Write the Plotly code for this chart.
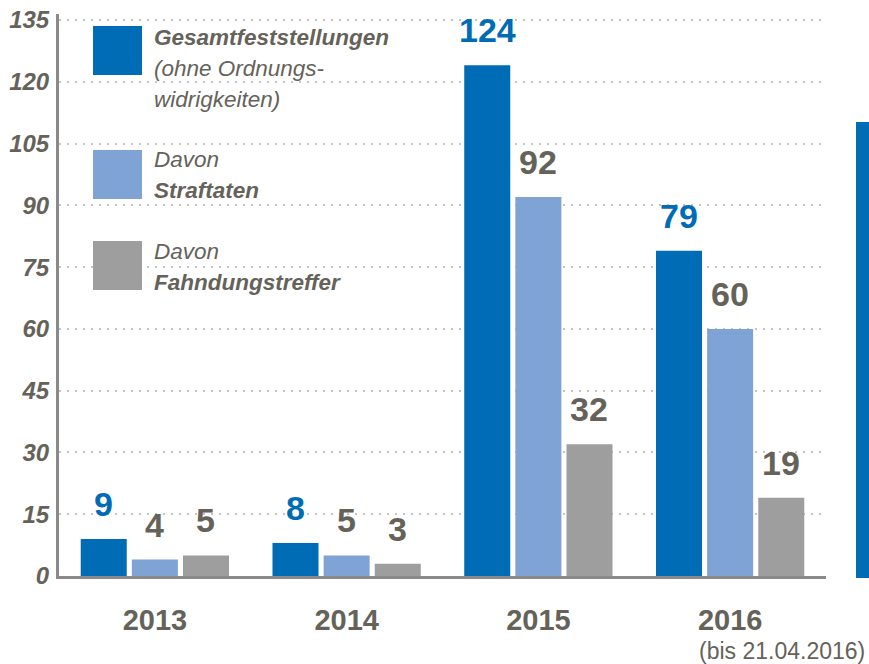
import plotly.graph_objects as go

years = ["2013", "2014", "2015", "2016"]
gesamt = [9, 8, 124, 79]
straftaten = [4, 5, 92, 60]
fahndung = [5, 3, 32, 19]
y_ticks = [0, 15, 30, 45, 60, 75, 90, 105, 120, 135]

C_BLUE = "#006cb5"
C_LIGHT = "#80a3d6"
C_GRAY = "#9d9e9d"
C_TEXT = "#65625a"
FONT = "Liberation Sans"

series = [
    (gesamt, C_BLUE, C_BLUE),
    (straftaten, C_LIGHT, C_TEXT),
    (fahndung, C_GRAY, C_TEXT),
]

fig = go.Figure()
for vals, col, _ in series:
    fig.add_trace(go.Bar(x=years, y=vals, marker=dict(color=col, line=dict(width=0)),
                         showlegend=False, hoverinfo="skip"))

annotations = []
shifts = [-51, 0, 51]
for (vals, col, tcol), xs in zip(series, shifts):
    for i, v in enumerate(vals):
        annotations.append(dict(x=i, y=v, xref="x", yref="y", text=f"<b>{v}</b>",
                                showarrow=False, xshift=xs, yanchor="bottom", yshift=14,
                                font=dict(family=FONT, size=34, color=tcol)))

# plot-area geometry in page pixels (used for paper-referenced decorations)
PX_L, PX_R, PX_T, PX_B = 59, 826, 14, 576
px_w = PX_R - PX_L
px_h = PX_B - PX_T


def px(xp):
    return (xp - PX_L) / px_w


def py(yp):
    return (PX_B - yp) / px_h


# legend (custom)
leg_items = [
    (C_BLUE, 26, [("<b><i>Gesamtfeststellungen</i></b>", 37), ("<i>(ohne Ordnungs-</i>", 68),
                  ("<i>widrigkeiten)</i>", 100)]),
    (C_LIGHT, 150, [("<i>Davon</i>", 159), ("<b><i>Straftaten</i></b>", 190)]),
    (C_GRAY, 241, [("<i>Davon</i>", 251), ("<b><i>Fahndungstreffer</i></b>", 282)]),
]
shapes = []
for col, ytop_px, lines in leg_items:
    shapes.append(dict(type="rect", xref="paper", yref="paper",
                       x0=px(93), x1=px(142), y0=py(ytop_px + 49), y1=py(ytop_px),
                       fillcolor=col, line=dict(width=0)))
    for txt, yc in lines:
        annotations.append(dict(xref="paper", yref="paper", x=px(152), y=py(yc),
                                xanchor="left", yanchor="middle", align="left", showarrow=False,
                                text=txt, font=dict(family=FONT, size=22.5, color=C_TEXT)))

# decorative blue bar at right
shapes.append(dict(type="rect", xref="paper", yref="paper",
                   x0=px(856), x1=px(872), y0=py(578), y1=py(122),
                   fillcolor=C_BLUE, line=dict(width=0), layer="above"))

annotations.append(dict(xref="paper", yref="paper", x=px(867), y=py(651),
                        xanchor="right", yanchor="middle", showarrow=False,
                        text="(bis 21.04.2016)",
                        font=dict(family=FONT, size=23, color=C_TEXT)))

fig.update_layout(
    width=869, height=664,
    margin=dict(l=PX_L, r=869 - PX_R, t=PX_T, b=664 - PX_B),
    paper_bgcolor="white", plot_bgcolor="white",
    barmode="group", bargap=0.2, bargroupgap=0.1,
    annotations=annotations, shapes=shapes,
    xaxis=dict(type="category", range=[-0.5, 3.5], automargin=False,
               showgrid=False, showline=True, linecolor="#8a8a8a", linewidth=3,
               ticks="", ticklabelstandoff=16,
               tickfont=dict(family=FONT, size=29, color=C_TEXT, weight="bold")),
    yaxis=dict(range=[0, 135 * px_h / 556], tickvals=y_ticks, automargin=False,
               showline=True, linecolor="#8a8a8a", linewidth=3,
               showgrid=True, gridcolor="#c4c4c4", gridwidth=2, griddash="2px,6px",
               zeroline=False, ticks="", ticklabelstandoff=2, ticklabeloverflow="allow",
               tickfont=dict(family=FONT, size=24, color=C_TEXT, weight="bold", style="italic")),
)

fig.write_html("out.html", config={"displayModeBar": False},
               post_script="document.body.style.margin='0';document.body.style.overflow='hidden';")
